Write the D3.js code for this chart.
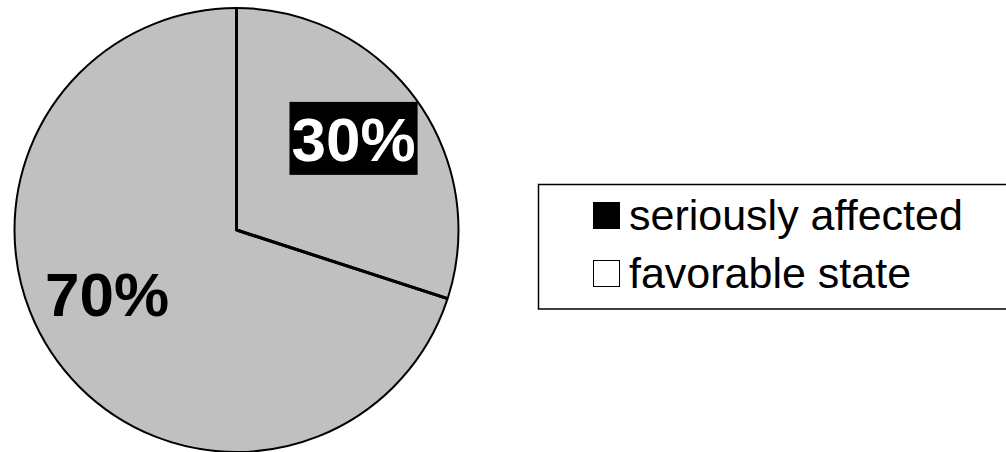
<!DOCTYPE html>
<html>
<head>
<meta charset="utf-8">
<script src="https://cdn.jsdelivr.net/npm/d3@7"></script>
<style>
  html, body { margin: 0; padding: 0; background: #ffffff; }
  svg { display: block; }
</style>
</head>
<body>
<svg id="chart" width="1006" height="452"></svg>
<script>
// ---- data ----
const categories = ["seriously affected", "favorable state"];
const values = [30, 70];
const labels = ["30%", "70%"];
const legendSwatches = ["#000000", "#ffffff"];

// ---- layout ----
const W = 1006, H = 452;
const cx = 236.5, cy = 230, R = 222;
const sliceFill = "#c0c0c0";
const font = "'Liberation Sans', Arial, Helvetica, sans-serif";

const svg = d3.select("#chart");
const g = svg.append("g").attr("transform", `translate(${cx},${cy})`);

const pie = d3.pie().sort(null).value(d => d)
  .startAngle(0).endAngle(2 * Math.PI);
const arcs = pie(values);
const arc = d3.arc().innerRadius(0).outerRadius(R);

// slices
g.selectAll("path.slice").data(arcs).join("path")
  .attr("class", "slice")
  .attr("d", arc)
  .attr("fill", sliceFill)
  .attr("stroke", "none");

// outer edge
g.append("circle").attr("r", R)
  .attr("fill", "none").attr("stroke", "#000").attr("stroke-width", 2);

// radial boundaries
const boundaries = arcs.map(a => a.startAngle);
g.selectAll("line.radial").data(boundaries).join("line")
  .attr("class", "radial")
  .attr("x1", 0).attr("y1", 0)
  .attr("x2", a => d3.pointRadial(a, R)[0])
  .attr("y2", a => d3.pointRadial(a, R)[1])
  .attr("stroke", "#000").attr("stroke-width", 3)
  .attr("stroke-linecap", "butt");
// join at center
g.append("path")
  .attr("d", () => {
    const p0 = d3.pointRadial(boundaries[0], R);
    const p1 = d3.pointRadial(boundaries[1], R);
    return `M${p0[0]},${p0[1]}L0,0L${p1[0]},${p1[1]}`;
  })
  .attr("fill", "none").attr("stroke", "#000").attr("stroke-width", 3)
  .attr("stroke-linejoin", "miter");

// labels
const labelArc = d3.arc().innerRadius(R * 0.66).outerRadius(R * 0.66);
const labelOffsets = [[-1.5, -5.5], [-11, -22]];
const fs = 62;
const capH = 0.716 * fs;
arcs.forEach((a, i) => {
  const c = labelArc.centroid(a);
  const x = c[0] + labelOffsets[i][0];
  const y = c[1] + labelOffsets[i][1];
  const lg = g.append("g");
  const t = lg.append("text")
    .attr("x", x).attr("y", y + capH / 2)
    .attr("text-anchor", "middle")
    .attr("font-family", font)
    .attr("font-weight", "bold")
    .attr("font-size", fs)
    .attr("fill", i === 0 ? "#fff" : "#000")
    .text(labels[i]);
  if (i === 0) {
    const bb = t.node().getBBox();
    lg.insert("rect", "text")
      .attr("x", bb.x - 2).attr("y", y - 36.5)
      .attr("width", bb.width + 4).attr("height", 73)
      .attr("fill", "#000");
  }
});

// legend
const leg = svg.append("g");
leg.append("rect")
  .attr("x", 538.5).attr("y", 184.5)
  .attr("width", 480).attr("height", 124.5)
  .attr("fill", "#fff").attr("stroke", "#000").attr("stroke-width", 1.5);

const legY = d3.scalePoint().domain(categories).range([230, 288]);
const legFs = 43;
categories.forEach((c, i) => {
  const base = legY(c);
  leg.append("rect")
    .attr("x", 593.5).attr("y", base - 27.5)
    .attr("width", 26).attr("height", 26)
    .attr("fill", legendSwatches[i]).attr("stroke", "#000").attr("stroke-width", 1);
  leg.append("text")
    .attr("x", 629).attr("y", base)
    .attr("font-family", font)
    .attr("font-size", legFs)
    .attr("fill", "#000")
    .text(c);
});
</script>
</body>
</html>
